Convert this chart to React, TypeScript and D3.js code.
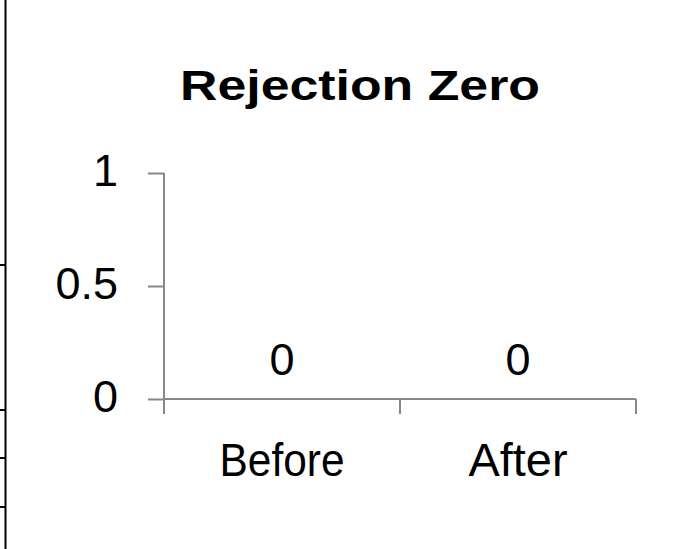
import * as d3 from 'd3';
import { useEffect, useRef } from 'react';

const WIDTH = 687, HEIGHT = 549;

// chart data
const title = "Rejection Zero";
const categories = ["Before", "After"];
const values = [0, 0];
const yTicks = [0, 0.5, 1];

// layout
const PLOT = { left: 164, right: 636, top: 173, bottom: 399 };
const AXIS_COLOR = "#878787";
const FONT = "'Liberation Sans', Arial, sans-serif";
const TITLE_FONT = "'Liberation Sans Narrow', 'Liberation Sans', Arial, sans-serif";
const borderStubs = [265, 410, 458, 507];
const labelWidths = { Before: 125, After: 99 };

const x = d3.scaleBand().domain(categories).range([PLOT.left, PLOT.right]).padding(0);
const y = d3.scaleLinear().domain([0, 1]).range([PLOT.bottom, PLOT.top]);

const App = () => {
    const ref = useRef(null);

    useEffect(() => {
        const svg = d3.select(ref.current);
        svg.selectAll("*").remove();

        svg.append("rect").attr("width", WIDTH).attr("height", HEIGHT).attr("fill", "#fff");

        // bits of the surrounding table border on the left
        svg.append("line")
            .attr("x1", 5.5).attr("x2", 5.5).attr("y1", 0).attr("y2", HEIGHT)
            .attr("stroke", "#000").attr("stroke-width", 2);
        svg.selectAll(".stub").data(borderStubs).enter().append("line")
            .attr("class", "stub")
            .attr("x1", 0).attr("x2", 5).attr("y1", d => d).attr("y2", d => d)
            .attr("stroke", "#000").attr("stroke-width", 2);

        // title
        svg.append("text")
            .attr("x", 360).attr("y", 100)
            .attr("text-anchor", "middle")
            .attr("font-family", TITLE_FONT)
            .attr("font-weight", "bold")
            .attr("font-size", 43)
            .attr("textLength", 360)
            .attr("lengthAdjust", "spacingAndGlyphs")
            .text(title);

        // y axis
        const yAxis = d3.axisLeft(y).tickValues(yTicks).tickSize(16).tickPadding(30)
            .tickFormat(d => d3.format("")(d));
        const gy = svg.append("g").attr("transform", `translate(${PLOT.left},0)`).call(yAxis);
        gy.select(".domain").remove();
        gy.selectAll(".tick line").attr("stroke", AXIS_COLOR).attr("stroke-width", 2);
        gy.selectAll(".tick text")
            .attr("font-family", FONT).attr("font-size", 45).attr("fill", "#000")
            .attr("dy", "0.32em").attr("y", -2);
        svg.append("line")
            .attr("x1", PLOT.left).attr("x2", PLOT.left)
            .attr("y1", PLOT.top).attr("y2", PLOT.bottom + 15)
            .attr("stroke", AXIS_COLOR).attr("stroke-width", 2);

        // x axis
        svg.append("line")
            .attr("x1", PLOT.left).attr("x2", PLOT.right)
            .attr("y1", y(0)).attr("y2", y(0))
            .attr("stroke", AXIS_COLOR).attr("stroke-width", 2);
        svg.selectAll(".xtick").data(categories).enter().append("line")
            .attr("class", "xtick")
            .attr("x1", d => x(d) + x.bandwidth()).attr("x2", d => x(d) + x.bandwidth())
            .attr("y1", y(0)).attr("y2", y(0) + 15)
            .attr("stroke", AXIS_COLOR).attr("stroke-width", 2);
        svg.selectAll(".xlabel").data(categories).enter().append("text")
            .attr("class", "xlabel")
            .attr("x", d => x(d) + x.bandwidth() / 2)
            .attr("y", 476)
            .attr("text-anchor", "middle")
            .attr("font-family", FONT).attr("font-size", 46)
            .attr("textLength", d => labelWidths[d])
            .attr("lengthAdjust", "spacingAndGlyphs")
            .text(d => d);

        // data labels (bars have zero height)
        svg.selectAll(".bar").data(values).enter().append("rect")
            .attr("class", "bar")
            .attr("x", (d, i) => x(categories[i]) + x.bandwidth() * 0.2)
            .attr("width", x.bandwidth() * 0.6)
            .attr("y", d => y(d)).attr("height", d => y(0) - y(d))
            .attr("fill", "#4f81bd");
        svg.selectAll(".vlabel").data(values).enter().append("text")
            .attr("class", "vlabel")
            .attr("x", (d, i) => x(categories[i]) + x.bandwidth() / 2)
            .attr("y", d => y(d) - 24)
            .attr("text-anchor", "middle")
            .attr("font-family", FONT).attr("font-size", 45)
            .text(d => d);
    }, []);

    return (
        <svg ref={ref} width={WIDTH} height={HEIGHT}
            style={{ position: "absolute", left: 0, top: 0, display: "block" }} />
    );
};

export default App;
